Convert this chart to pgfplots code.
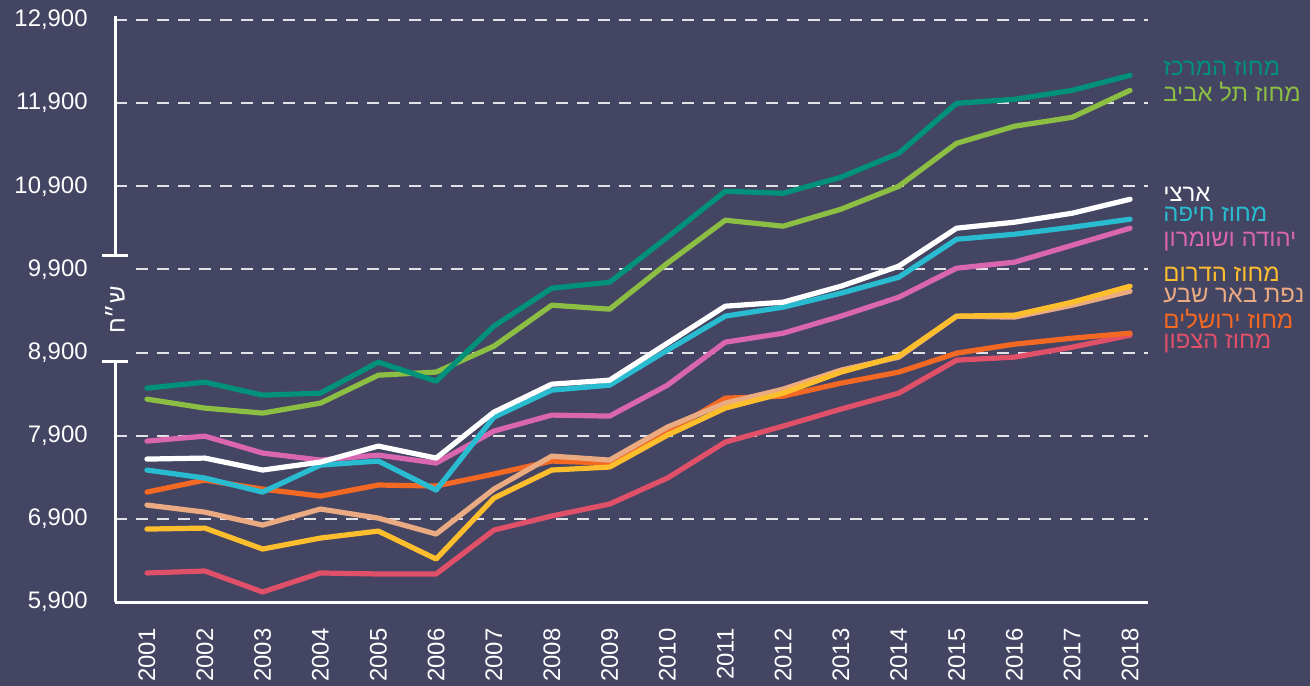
\documentclass[border=0pt]{standalone}
\usepackage{fontspec}
\setmainfont{Liberation Sans}
\newfontfamily\hebfont[Script=Hebrew]{Liberation Sans}
\TeXXeTstate=1
\usepackage{pgfplots}
\usepackage{pgfplotstable}
\pgfplotsset{compat=1.18}
\definecolor{bg}{RGB}{67,69,99}
\definecolor{cen}{RGB}{0,145,122}
\definecolor{ta}{RGB}{140,190,68}
\definecolor{hai}{RGB}{41,188,208}
\definecolor{jud}{RGB}{218,102,176}
\definecolor{sou}{RGB}{253,190,46}
\definecolor{bs}{RGB}{234,170,130}
\definecolor{jer}{RGB}{243,104,34}
\definecolor{nor}{RGB}{224,80,104}
\definecolor{gridc}{RGB}{225,225,232}
\pgfplotstableread{
idx cen ta nat hai jud sou bs jer nor
1 8472 8340 7619 7487 7835 6777 7066 7222 6249
2 8544 8232 7631 7391 7895 6789 6981 7367 6273
3 8388 8172 7487 7222 7691 6537 6825 7258 6020
4 8412 8292 7583 7547 7607 6669 7018 7174 6249
5 8785 8628 7775 7595 7667 6753 6909 7307 6237
6 8556 8665 7631 7246 7571 6417 6717 7295 6237
7 9218 8977 8184 8124 7956 7150 7258 7439 6765
8 9674 9470 8520 8448 8148 7487 7655 7595 6934
9 9746 9422 8568 8508 8136 7523 7607 7571 7078
10 10287 9975 9013 8929 8508 7907 8004 7943 7391
11 10840 10492 9458 9338 9025 8232 8292 8352 7823
12 10816 10420 9506 9446 9133 8412 8460 8376 8016
13 11009 10624 9698 9614 9338 8665 8689 8532 8220
14 11297 10900 9939 9806 9566 8857 8845 8665 8412
15 11898 11417 10396 10263 9915 9338 9338 8893 8809
16 11946 11622 10468 10323 9987 9350 9326 9001 8845
17 12054 11730 10576 10408 10191 9506 9470 9073 8965
18 12234 12054 10744 10504 10396 9698 9638 9133 9109
}\datatable
\begin{document}
\begin{tikzpicture}
\fill[bg] (0bp,0bp) rectangle (655bp,343bp);
\begin{axis}[
  at={(57.5bp,42bp)}, anchor=south west,
  width=516.5bp, height=291bp, scale only axis=true,
  xmin=0.447, xmax=18.31,
  ymin=5900, ymax=12900,
  xtick={1,...,18},
  xticklabels={2001,2002,2003,2004,2005,2006,2007,2008,2009,2010,2011,2012,2013,2014,2015,2016,2017,2018},
  ytick={5900,6900,...,12900},
  scaled y ticks=false,
  axis x line*=bottom, axis y line*=left,
  x axis line style={white, line width=1.5bp},
  y axis line style={draw=none},
  tick style={draw=none},
  major tick length=0pt,
  /pgf/number format/assume math mode=true,
  yticklabel style={/pgf/number format/1000 sep={,}, anchor=east, inner sep=0pt, font=\fontsize{12}{14}\selectfont, text=white},
  yticklabel shift=13.5bp,
  xticklabel style={rotate=90, anchor=east, inner sep=0pt, font=\fontsize{12}{14}\selectfont, text=white},
  xticklabel shift=13bp,
  ymajorgrids,
  grid style={gridc, line width=1bp, dash pattern=on 6bp off 4.5bp},
  every axis plot/.append style={line width=2.6bp, line join=round, line cap=round, no markers},
]
\addplot[nor] table[x=idx,y=nor]{\datatable};
\addplot[jer] table[x=idx,y=jer]{\datatable};
\addplot[bs] table[x=idx,y=bs]{\datatable};
\addplot[sou] table[x=idx,y=sou]{\datatable};
\addplot[jud] table[x=idx,y=jud]{\datatable};
\addplot[hai] table[x=idx,y=hai]{\datatable};
\addplot[white] table[x=idx,y=nat]{\datatable};
\addplot[ta] table[x=idx,y=ta]{\datatable};
\addplot[cen] table[x=idx,y=cen]{\datatable};
\coordinate (ytop) at (axis cs:0.447,12950);
\coordinate (ycapa) at (axis cs:0.447,10071);
\coordinate (ycapb) at (axis cs:0.447,8790);
\coordinate (ybot) at (axis cs:0.447,5900);
\coordinate (ylab) at (axis cs:0.447,9410);
\end{axis}
\fill[bg] ([xshift=-10bp,yshift=-1bp]ycapa) rectangle ([xshift=10bp,yshift=1bp]ycapb);
\draw[white, line width=1.5bp] (ytop) -- (ycapa);
\draw[white, line width=1.5bp] ([xshift=-6.5bp]ycapa) -- ([xshift=6.5bp]ycapa);
\draw[white, line width=1.5bp] (ybot) -- (ycapb);
\draw[white, line width=1.5bp] ([xshift=-6.5bp]ycapb) -- ([xshift=6.5bp]ycapb);
\node[rotate=90, text=white, font=\hebfont\fontsize{12}{14}\selectfont, inner sep=0pt] at (ylab) {\beginR ש״ח\endR};
\begin{scope}[every node/.style={anchor=base west, inner sep=0pt, font=\hebfont\fontsize{12}{14}\selectfont}]
\node[text=cen] at (581.5bp,305bp) {\beginR מחוז המרכז\endR};
\node[text=ta] at (581.5bp,292bp) {\beginR מחוז תל אביב\endR};
\node[text=white] at (581.5bp,242bp) {\beginR ארצי\endR};
\node[text=hai] at (581.5bp,232bp) {\beginR מחוז חיפה\endR};
\node[text=jud] at (581.5bp,219.5bp) {\beginR יהודה ושומרון\endR};
\node[text=sou] at (581.5bp,202bp) {\beginR מחוז הדרום\endR};
\node[text=bs] at (581.5bp,191.5bp) {\beginR נפת באר שבע\endR};
\node[text=jer] at (581.5bp,178.5bp) {\beginR מחוז ירושלים\endR};
\node[text=nor] at (581.5bp,168.5bp) {\beginR מחוז הצפון\endR};
\end{scope}
\pgfresetboundingbox
\path[use as bounding box] (0bp,0bp) rectangle (655bp,343bp);
\end{tikzpicture}
\end{document}
